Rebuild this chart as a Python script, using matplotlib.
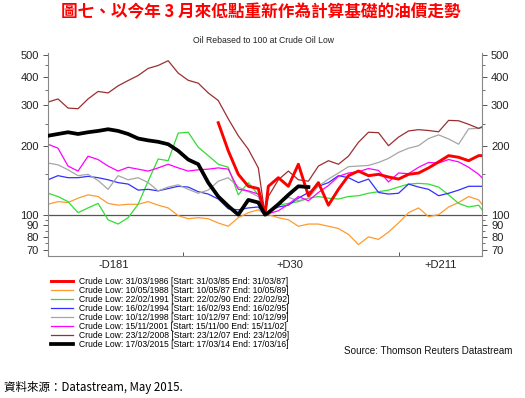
import matplotlib
matplotlib.use("Agg")
import matplotlib.pyplot as plt
import numpy as np

plt.rcParams.update({
    "font.family": ["Liberation Sans", "DejaVu Sans"],
    "font.size": 7,
})

nan = np.nan

# trading days relative to the crude oil low (day 0 = 100)
days = [-260, -248, -236, -224, -212, -200, -188, -176, -164, -152, -140, -128,
        -116, -104, -92, -80, -68, -56, -44, -32, -20, -8, 0,
        4, 16, 28, 40, 52, 64, 76, 88, 100, 112, 124, 136, 148, 160, 172,
        184, 196, 208, 220, 232, 244, 256, 260]

low_1986 = [nan, nan, nan, nan, nan, nan, nan, nan, nan, nan, nan, nan,
            nan, nan, nan, nan, nan, 252, 190, 150, 133, 130, 100,
            133, 145, 133, 166, 121, 138, 110, 129, 148, 155, 148, 150, 146, 143, 150,
            152, 160, 170, 181, 178, 172, 181, 181]
low_1988 = [111, 114, 113, 118, 122, 120, 112, 110, 111, 111, 114, 110,
            107, 99, 96, 97, 96, 92, 89, 97, 102, 105, 100,
            100, 97, 95, 89, 91, 91, 89, 87, 82, 74, 80, 78, 84, 92, 102,
            107, 98, 100, 108, 113, 120, 116, 111]
low_1991 = [124, 120, 114, 102, 107, 112, 95, 91, 97, 111, 140, 175,
            172, 227, 229, 197, 181, 166, 161, 122, 138, 122, 100,
            103, 110, 112, 114, 118, 120, 118, 117, 120, 121, 124, 126, 128, 132, 136,
            137, 136, 132, 122, 112, 108, 110, 105]
low_1994 = [142, 148, 145, 145, 147, 145, 142, 138, 136, 128, 129, 127,
            130, 133, 132, 126, 123, 117, 106, 105, 107, 108, 100,
            103, 108, 110, 118, 125, 133, 138, 148, 145, 138, 143, 125, 123, 124, 136,
            132, 129, 121, 124, 128, 133, 133, 133]
low_1998 = [168, 165, 157, 148, 150, 141, 129, 148, 142, 145, 138, 127,
            132, 135, 129, 124, 128, 140, 145, 132, 126, 120, 100,
            103, 112, 119, 115, 118, 133, 143, 152, 162, 163, 164, 169, 176, 187, 195,
            200, 215, 223, 214, 203, 237, 238, 240]
low_2001 = [203, 195, 163, 155, 180, 174, 163, 155, 161, 158, 155, 160,
            166, 160, 155, 157, 158, 160, 158, 129, 127, 123, 100,
            101, 104, 111, 120, 115, 125, 134, 147, 152, 154, 159, 156, 139, 152, 151,
            161, 169, 168, 174, 170, 161, 150, 145]
low_2008 = [310, 320, 292, 290, 320, 345, 340, 365, 385, 405, 435, 448,
            470, 415, 386, 375, 340, 315, 262, 221, 193, 160, 100,
            120, 142, 155, 142, 140, 163, 172, 166, 180, 207, 229, 228, 200, 218, 232,
            235, 233, 230, 258, 257, 248, 238, 242]
low_2015 = [221, 225, 229, 225, 229, 232, 236, 232, 225, 215, 211, 208,
            203, 190, 174, 166, 138, 120, 109, 100, 116, 113, 100,
            102, 111, 122, 133, 132, nan, nan, nan, nan, nan, nan, nan, nan, nan, nan,
            nan, nan, nan, nan, nan, nan, nan, nan]

series = [low_1986, low_1988, low_1991, low_1994, low_1998, low_2001, low_2008, low_2015]
labels = [
    "Crude Low: 31/03/1986 [Start: 31/03/85 End: 31/03/87]",
    "Crude Low: 10/05/1988 [Start: 10/05/87 End: 10/05/89]",
    "Crude Low: 22/02/1991 [Start: 22/02/90 End: 22/02/92]",
    "Crude Low: 16/02/1994 [Start: 16/02/93 End: 16/02/95]",
    "Crude Low: 10/12/1998 [Start: 10/12/97 End: 10/12/99]",
    "Crude Low: 15/11/2001 [Start: 15/11/00 End: 15/11/02]",
    "Crude Low: 23/12/2008 [Start: 23/12/07 End: 23/12/09]",
    "Crude Low: 17/03/2015 [Start: 17/03/14 End: 17/03/16]",
]
colors = ["#ff0000", "#ff9a2e", "#33dd33", "#3030ff", "#a6a6a6", "#ff00ff", "#9b2f2f", "#000000"]
widths = [2.1, 0.9, 0.9, 0.9, 0.9, 0.9, 0.9, 2.7]
zorders = [4, 2, 2, 2, 2, 2, 2, 5]

x_label_pos = [-181, 30, 211]
x_label_txt = ["-D181", "+D30", "+D211"]
x_tick_pos = [-98, 161]
y_major = [70, 80, 90, 100, 200, 300, 400, 500]
y_minor = [75, 85, 95, 150, 250, 350, 450]

fig = plt.figure(figsize=(5.25, 3.98), dpi=100, facecolor="white")

fig.text(0.497, 0.968, "圖七、以今年 3 月來低點重新作為計算基礎的油價走勢",
         ha="center", va="center", fontsize=12, fontweight="bold", color="#ff0000",
         family=["Noto Sans CJK TC", "DejaVu Sans"])
fig.text(0.502, 0.898, "Oil Rebased to 100 at Crude Oil Low", ha="center", va="center",
         fontsize=6.2, color="#222222")

ax = fig.add_axes([0.0914, 0.3568, 0.8267, 0.5101])
ax.axhline(100, color="#555555", lw=0.9, zorder=1)
handles = []
for vals, lab, c, w, z in zip(series, labels, colors, widths, zorders):
    h, = ax.plot(days, vals, color=c, lw=w, label=lab, zorder=z)
    handles.append(h)

ax.set_yscale("log")
ax.set_ylim(66, 508)
ax.set_xlim(-260, 260)
ax.set_yticks(y_major)
ax.set_yticklabels([str(v) for v in y_major])
ax.set_yticks(y_minor, minor=True)
ax.yaxis.set_minor_formatter(plt.NullFormatter())
ax.tick_params(axis="y", which="both", left=True, right=True, labelleft=True,
               labelright=True, direction="out", colors="#555555", labelcolor="#222222",
               labelsize=8, pad=3)
ax.tick_params(axis="y", which="major", length=3.5, width=0.7)
ax.tick_params(axis="y", which="minor", length=2, width=0.6)

ax.set_xticks(x_tick_pos)
ax.set_xticklabels(["", ""])
ax.set_xticks(x_label_pos, minor=True)
ax.set_xticklabels(x_label_txt, minor=True)
ax.tick_params(axis="x", which="major", length=3, width=0.7, direction="in", colors="#555555")
ax.tick_params(axis="x", which="minor", length=0, labelsize=8, pad=3, labelcolor="#222222")

ax.spines["top"].set_visible(False)
for s in ["left", "right", "bottom"]:
    ax.spines[s].set_color("#888888")
    ax.spines[s].set_linewidth(0.8)

fig.legend(handles=handles, labels=labels, loc="upper left",
           bbox_to_anchor=(0.098, 0.305), frameon=False, fontsize=6.2,
           handlelength=2.5, handletextpad=0.7, labelspacing=0.0,
           borderaxespad=0, borderpad=0)

fig.text(0.976, 0.118, "Source: Thomson Reuters Datastream", ha="right", va="center",
         fontsize=7.1, color="#111111")
fig.text(0.008, 0.026, "資料來源：Datastream, May 2015.", ha="left", va="center",
         fontsize=8.3, color="#000000", family=["Noto Sans CJK TC", "DejaVu Sans"])

fig.savefig("out.png", dpi=100, facecolor="white")
plt.close(fig)
